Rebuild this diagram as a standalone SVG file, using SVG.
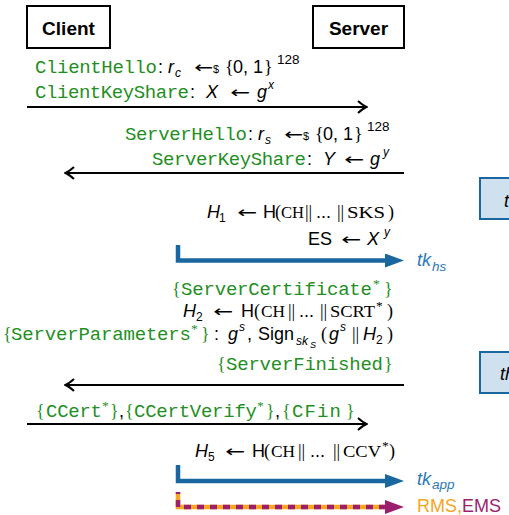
<svg xmlns="http://www.w3.org/2000/svg" width="509" height="515" viewBox="0 0 509 515">
  <style>
    .t { font-family: "Liberation Sans", "DejaVu Sans", sans-serif; font-size: 18px; fill: #000; }
    .g { font-family: "Liberation Mono", "DejaVu Sans Mono", monospace; font-size: 19px; fill: #1f8f1f; }
    .gs { font-family: "Liberation Serif", "DejaVu Serif", serif; fill: #1f8f1f; }
    .i { font-style: italic; }
    .s { font-size: 12px; }
    .s2 { font-size: 13.5px; }
    .ss { font-size: 9px; }
    .sm { font-size: 11px; }
    .sr { font-family: "Liberation Serif", "DejaVu Serif", serif; }
    .bar { font-family: "Liberation Serif", "DejaVu Serif", serif; }
    .sc { font-family: "Liberation Serif", "DejaVu Serif", serif; font-size: 16px; }
    .ar { font-family: "DejaVu Sans", sans-serif; font-size: 16px; }
    .party { font-family: "Liberation Sans", sans-serif; font-size: 19px; font-weight: bold; }
    .box { fill: #fff; stroke: #000; stroke-width: 2; }
    .msg { stroke: #000; stroke-width: 2.2; fill: none; }
    .key { stroke: #1a67a0; stroke-width: 4.5; fill: none; }
    .stage { fill: #cfe1ef; stroke: #1a67a0; stroke-width: 2; }
    .kl { font-family: "Liberation Sans", sans-serif; font-size: 18px; font-style: italic; fill: #2a78b5; }
  </style>
  <defs>
    <marker id="open" viewBox="-10 -7 12 14" refX="0" refY="0" markerWidth="12" markerHeight="14" markerUnits="userSpaceOnUse" orient="auto">
      <path d="M -8 -6 Q -3 -1.5 0.5 0 Q -3 1.5 -8 6" fill="none" stroke="#000" stroke-width="2"/>
    </marker>
    <marker id="blueHead" viewBox="0 -7 19 14" refX="0" refY="0" markerWidth="19" markerHeight="14" markerUnits="userSpaceOnUse" orient="auto">
      <path d="M 0 -7 L 19 0 L 0 7 Z" fill="#1a67a0"/>
    </marker>
    <marker id="purpleHead" viewBox="0 -7 19 14" refX="0" refY="0" markerWidth="19" markerHeight="14" markerUnits="userSpaceOnUse" orient="auto">
      <path d="M 0 -7 L 19 0 L 0 7 Z" fill="#9c1f6e"/>
    </marker>
  </defs>

  <!-- parties -->
  <g id="client">
    <rect class="box" x="27" y="6" width="83" height="42"/>
    <text class="party" x="68.5" y="35" text-anchor="middle">Client</text>
  </g>
  <g id="server">
    <rect class="box" x="313" y="6" width="91" height="42"/>
    <text class="party" x="358.5" y="35" text-anchor="middle">Server</text>
  </g>

  <!-- stage boxes at the right edge -->
  <g id="stage-hs">
    <rect class="stage" x="480" y="178" width="40" height="41"/>
    <text class="t i" x="504" y="207">t</text>
  </g>
  <g id="stage-app">
    <rect class="stage" x="480" y="352" width="40" height="41"/>
    <text class="t i" x="500" y="380">th</text>
  </g>

  <!-- messages and key schedule -->
  <g id="connectors">
    <line class="msg" x1="27" y1="107" x2="366" y2="107" marker-end="url(#open)"/>
    <line class="msg" x1="404" y1="173" x2="66" y2="173" marker-end="url(#open)"/>
    <line class="msg" x1="404" y1="385" x2="66" y2="385" marker-end="url(#open)"/>
    <line class="msg" x1="27" y1="424" x2="366" y2="424" marker-end="url(#open)"/>
    <path class="key" d="M 178 245 V 260.5 H 385" marker-end="url(#blueHead)"/>
    <path class="key" d="M 178 465 V 481 H 385" marker-end="url(#blueHead)"/>
    <path d="M 178 492 V 507 H 385" fill="none" stroke="#f5a623" stroke-width="4.5"/>
    <path d="M 178 492 V 507 H 385" fill="none" stroke="#9c1f6e" stroke-width="4.5" stroke-dasharray="7 6" stroke-dashoffset="-8" marker-end="url(#purpleHead)"/>
  </g>

  <!-- message labels -->
  <g id="labels">
    <text class="t"><tspan class="g" x="35" y="73" textLength="122">ClientHello</tspan><tspan x="158" y="73">:</tspan><tspan class="i" x="168" y="73">r</tspan><tspan class="i s" x="175" y="77">c</tspan><tspan class="ar" x="194" y="73" textLength="19" lengthAdjust="spacingAndGlyphs">←</tspan><tspan class="sm" x="213" y="73">$</tspan><tspan class="sr" x="225" y="73">{</tspan><tspan x="233" y="73">0, 1</tspan><tspan class="sr" x="264" y="73">}</tspan><tspan class="s2" x="277" y="64">128</tspan></text>
    <text class="t"><tspan class="g" x="35" y="98" textLength="154">ClientKeyShare</tspan><tspan x="190" y="98">:</tspan><tspan class="i" x="206" y="98">X</tspan><tspan class="ar" x="230" y="98" textLength="20" lengthAdjust="spacingAndGlyphs">←</tspan><tspan class="i" x="257" y="98">g</tspan><tspan class="i s" x="268" y="89">x</tspan></text>

    <text class="t"><tspan class="g" x="125" y="140" textLength="122">ServerHello</tspan><tspan x="248" y="140">:</tspan><tspan class="i" x="258" y="140">r</tspan><tspan class="i s" x="265" y="144">s</tspan><tspan class="ar" x="284" y="140" textLength="19" lengthAdjust="spacingAndGlyphs">←</tspan><tspan class="sm" x="303" y="140">$</tspan><tspan class="sr" x="315" y="140">{</tspan><tspan x="323" y="140">0, 1</tspan><tspan class="sr" x="354" y="140">}</tspan><tspan class="s2" x="367" y="131">128</tspan></text>
    <text class="t"><tspan class="g" x="152" y="165" textLength="154">ServerKeyShare</tspan><tspan x="307" y="165">:</tspan><tspan class="i" x="323" y="165">Y</tspan><tspan class="ar" x="344" y="165" textLength="20" lengthAdjust="spacingAndGlyphs">←</tspan><tspan class="i" x="370" y="165">g</tspan><tspan class="i s" x="383" y="156">y</tspan></text>

    <text class="t"><tspan class="i" x="207" y="218">H</tspan><tspan class="s" x="219" y="222">1</tspan><tspan class="ar" x="237" y="218" textLength="20" lengthAdjust="spacingAndGlyphs">←</tspan><tspan x="263" y="218">H</tspan><tspan class="sr" x="275" y="218">(</tspan><tspan class="sc" x="281" y="218" textLength="23" lengthAdjust="spacingAndGlyphs">CH</tspan><tspan class="bar" x="305" y="218">||</tspan><tspan x="316" y="218">...</tspan><tspan class="bar" x="337" y="218">||</tspan><tspan class="sc" x="347" y="218" textLength="38" lengthAdjust="spacingAndGlyphs">SKS</tspan><tspan class="sr" x="388" y="218">)</tspan></text>
    <text class="t"><tspan x="308" y="245">ES</tspan><tspan class="ar" x="341" y="245" textLength="20" lengthAdjust="spacingAndGlyphs">←</tspan><tspan class="i" x="367" y="245">X</tspan><tspan class="i s" x="384" y="236">y</tspan></text>
    <text class="kl"><tspan x="417" y="266">tk</tspan><tspan class="s2" x="432" y="271">hs</tspan></text>

    <text class="t"><tspan class="gs" x="172" y="295">{</tspan><tspan class="g" x="181" y="295" textLength="191">ServerCertificate</tspan><tspan class="gs s2" x="373" y="288">*</tspan><tspan class="gs" x="384" y="295">}</tspan></text>
    <text class="t"><tspan class="i" x="183" y="317">H</tspan><tspan class="s" x="196" y="321">2</tspan><tspan class="ar" x="213" y="317" textLength="20" lengthAdjust="spacingAndGlyphs">←</tspan><tspan x="241" y="317">H</tspan><tspan class="sr" x="254" y="317">(</tspan><tspan class="sc" x="261" y="317" textLength="24" lengthAdjust="spacingAndGlyphs">CH</tspan><tspan class="bar" x="288" y="317">||</tspan><tspan x="299" y="317">...</tspan><tspan class="bar" x="320" y="317">||</tspan><tspan class="sc" x="330" y="317" textLength="45" lengthAdjust="spacingAndGlyphs">SCRT</tspan><tspan class="sr s2" x="376" y="310">*</tspan><tspan class="sr" x="387" y="317">)</tspan></text>
    <text class="t"><tspan class="gs" x="3" y="340">{</tspan><tspan class="g" x="11" y="340" textLength="180">ServerParameters</tspan><tspan class="gs s2" x="191" y="333">*</tspan><tspan class="gs" x="201" y="340">}</tspan><tspan x="214" y="340">:</tspan><tspan class="i" x="228" y="340">g</tspan><tspan class="i s" x="239" y="331">s</tspan><tspan x="247" y="340">,</tspan><tspan x="258" y="340">Sign</tspan><tspan class="i s" x="296" y="345">sk</tspan><tspan class="i ss" x="310" y="348">S</tspan><tspan class="sr" x="321" y="340">(</tspan><tspan class="i" x="329" y="340">g</tspan><tspan class="i s" x="340" y="331">s</tspan><tspan class="bar" x="352" y="340">||</tspan><tspan class="i" x="363" y="340">H</tspan><tspan class="s" x="376" y="344">2</tspan><tspan class="sr" x="387" y="340">)</tspan></text>
    <text class="t"><tspan class="gs" x="217" y="370">{</tspan><tspan class="g" x="226" y="370" textLength="157">ServerFinished</tspan><tspan class="gs" x="384" y="370">}</tspan></text>

    <text class="t"><tspan class="gs" x="36" y="417">{</tspan><tspan class="g" x="46" y="417" textLength="56">CCert</tspan><tspan class="gs s2" x="102" y="410">*</tspan><tspan class="gs" x="110" y="417">}</tspan><tspan x="119" y="417">,</tspan><tspan class="gs" x="125" y="417">{</tspan><tspan class="g" x="134" y="417" textLength="123">CCertVerify</tspan><tspan class="gs s2" x="257" y="410">*</tspan><tspan class="gs" x="266" y="417">}</tspan><tspan x="275" y="417">,</tspan><tspan class="gs" x="282" y="417">{</tspan><tspan class="g" x="292" y="417" textLength="49">CFin</tspan><tspan class="gs" x="346" y="417">}</tspan></text>

    <text class="t"><tspan class="i" x="195" y="457">H</tspan><tspan class="s" x="208" y="461">5</tspan><tspan class="ar" x="225" y="457" textLength="20" lengthAdjust="spacingAndGlyphs">←</tspan><tspan x="252" y="457">H</tspan><tspan class="sr" x="264" y="457">(</tspan><tspan class="sc" x="271" y="457" textLength="24" lengthAdjust="spacingAndGlyphs">CH</tspan><tspan class="bar" x="298" y="457">||</tspan><tspan x="310" y="457">...</tspan><tspan class="bar" x="333" y="457">||</tspan><tspan class="sc" x="343" y="457" textLength="38" lengthAdjust="spacingAndGlyphs">CCV</tspan><tspan class="sr s2" x="382" y="450">*</tspan><tspan class="sr" x="389" y="457">)</tspan></text>
    <text class="kl"><tspan x="417" y="485">tk</tspan><tspan class="s2" x="432" y="489">app</tspan></text>
    <text class="t"><tspan x="417" y="512" fill="#f5a623">RMS,</tspan><tspan fill="#9c1f6e">EMS</tspan></text>
  </g>
</svg>
